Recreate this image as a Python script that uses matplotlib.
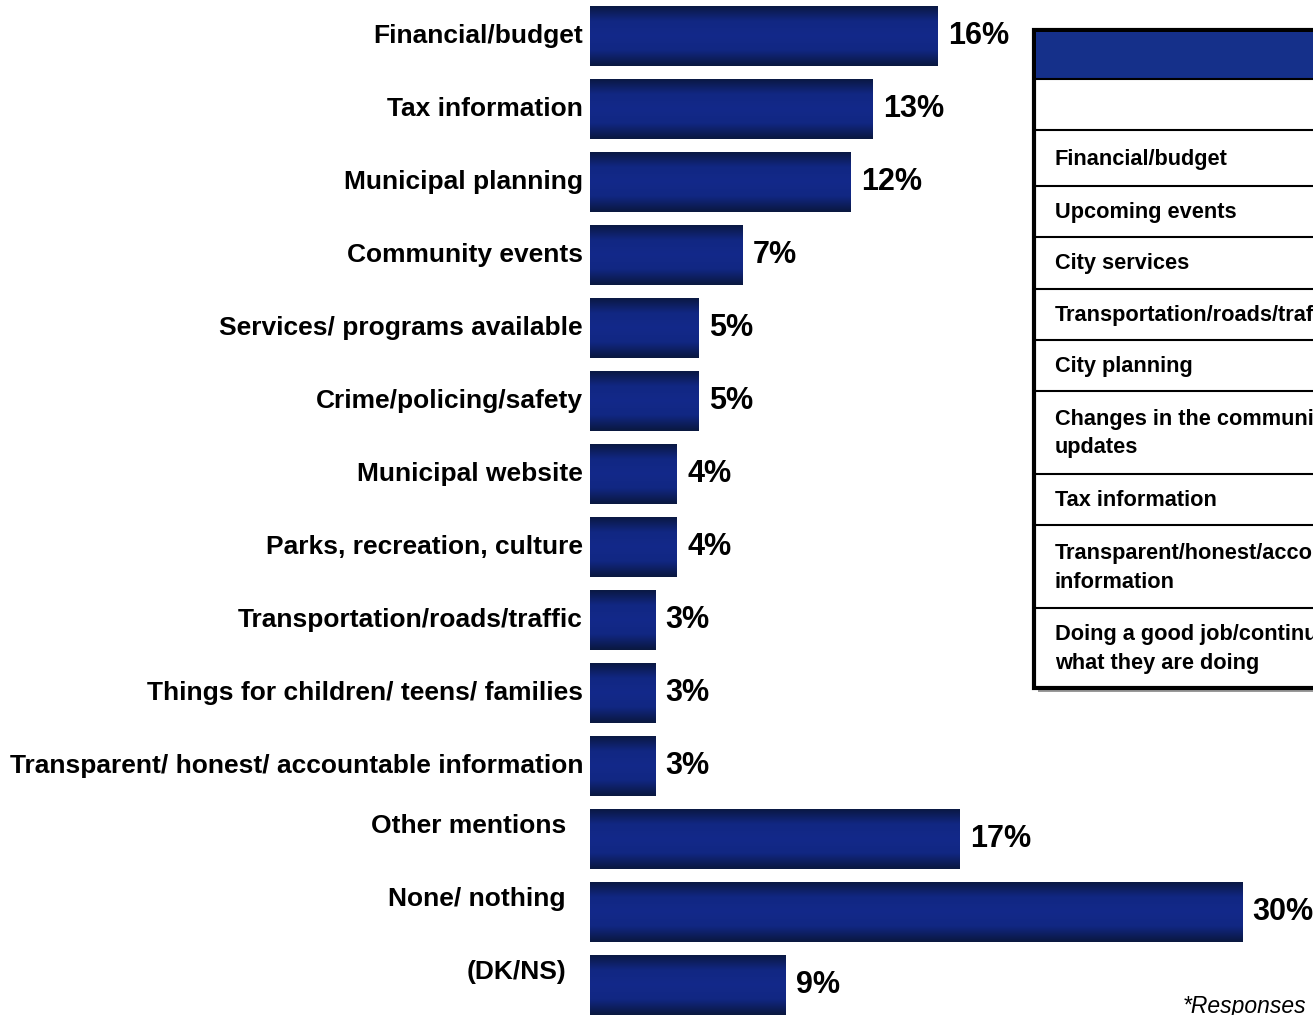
import numpy as np
import matplotlib
matplotlib.use("Agg")
import matplotlib.pyplot as plt
from matplotlib.colors import LinearSegmentedColormap
from matplotlib.patches import Rectangle
from matplotlib.lines import Line2D

# Data.
categories = ["Financial/budget", "Tax information", "Municipal planning",
              "Community events", "Services/ programs available",
              "Crime/policing/safety", "Municipal website",
              "Parks, recreation, culture", "Transportation/roads/traffic",
              "Things for children/ teens/ families",
              "Transparent/ honest/ accountable information",
              "Other mentions", "None/ nothing", "(DK/NS)"]
values = [16, 13, 12, 7, 5, 5, 4, 4, 3, 3, 3, 17, 30, 9]
n_listed = 11   # the last three rows are set apart (labels shifted)

table_rows = ["Financial/budget", "Upcoming events", "City services",
              "Transportation/roads/traffic", "City planning",
              "Changes in the community/\nupdates", "Tax information",
              "Transparent/honest/accountable\ninformation",
              "Doing a good job/continue\nwhat they are doing"]
footnote = "*Responses"

W, H = 1313, 1015
plt.rcParams["font.family"] = ["Liberation Sans", "DejaVu Sans"]

fig = plt.figure(figsize=(W / 100, H / 100), dpi=100)

def fx(px):
    return px / W

def fy(py):
    return 1 - py / H

# Bar chart axes: 0% at x=590px, ~21.75 px per %.
px_per = 21.75
x0 = 590
xmax = 33
ax = fig.add_axes([fx(x0), 0, xmax * px_per / W, 1])
y_top, step = 36, 73
ax.axis("off")

cmap = LinearSegmentedColormap.from_list("bar", ["#0a1840", "#112782", "#13298a", "#112782", "#0a1840"])
grad = np.linspace(0, 1, 64).reshape(-1, 1)
bh = 0.835

ypos = np.arange(len(values))
bars = ax.barh(ypos, values, height=bh, color="#112782", edgecolor="none")
for b, v, y in zip(bars, values, ypos):
    im = ax.imshow(grad, cmap=cmap, aspect="auto", interpolation="bicubic",
                   extent=[0, v, y + bh / 2, y - bh / 2], zorder=2)
    im.set_clip_path(b)
    ax.text(v + 10 / px_per, y, f"{v}%", ha="left", va="center",
            fontsize=22, fontweight="bold", color="black")

for i, (c, y) in enumerate(zip(categories, ypos)):
    if i < n_listed:
        ax.text(-7 / px_per, y, c, ha="right", va="center",
                fontsize=19, fontweight="bold", clip_on=False)
    else:
        ax.text(-24 / px_per, y - 13 / step, c, ha="right", va="center",
                fontsize=19, fontweight="bold", clip_on=False)
ax.set_xlim(0, xmax)
ax.set_ylim((H - y_top) / step, -y_top / step)

# Table (cut off by the right edge of the figure).
tl, tr = 1034, 1330
bounds = [30, 79, 130, 186, 237, 289, 340, 391, 474, 525, 608, 688]
# shadow
fig.add_artist(Rectangle((fx(tl + 4), fy(bounds[-1] + 4)), fx(tr) - fx(tl),
                         fy(bounds[0] + 4) - fy(bounds[-1] + 4),
                         transform=fig.transFigure, facecolor="#9a9a9a", edgecolor="none"))
fig.add_artist(Rectangle((fx(tl), fy(bounds[-1])), fx(tr) - fx(tl),
                         fy(bounds[0]) - fy(bounds[-1]),
                         transform=fig.transFigure, facecolor="white",
                         edgecolor="black", linewidth=3))
fig.add_artist(Rectangle((fx(tl + 1.5), fy(bounds[1])), fx(tr) - fx(tl),
                         fy(bounds[0] + 1.5) - fy(bounds[1]),
                         transform=fig.transFigure, facecolor="#15308a", edgecolor="none"))
for b in bounds[1:-1]:
    fig.add_artist(Line2D([fx(tl), fx(tr)], [fy(b), fy(b)], transform=fig.transFigure,
                          color="black", linewidth=1.5))
for t, top, bot in zip(table_rows, bounds[2:-1], bounds[3:]):
    fig.text(fx(1055), fy((top + bot) / 2 + 1), t, ha="left", va="center",
             fontsize=15.7, fontweight="bold", linespacing=1.5)

fig.text(fx(1183), fy(1006), footnote, ha="left", va="center",
         fontsize=16.5, style="italic")

fig.savefig("out.png", dpi=100)
